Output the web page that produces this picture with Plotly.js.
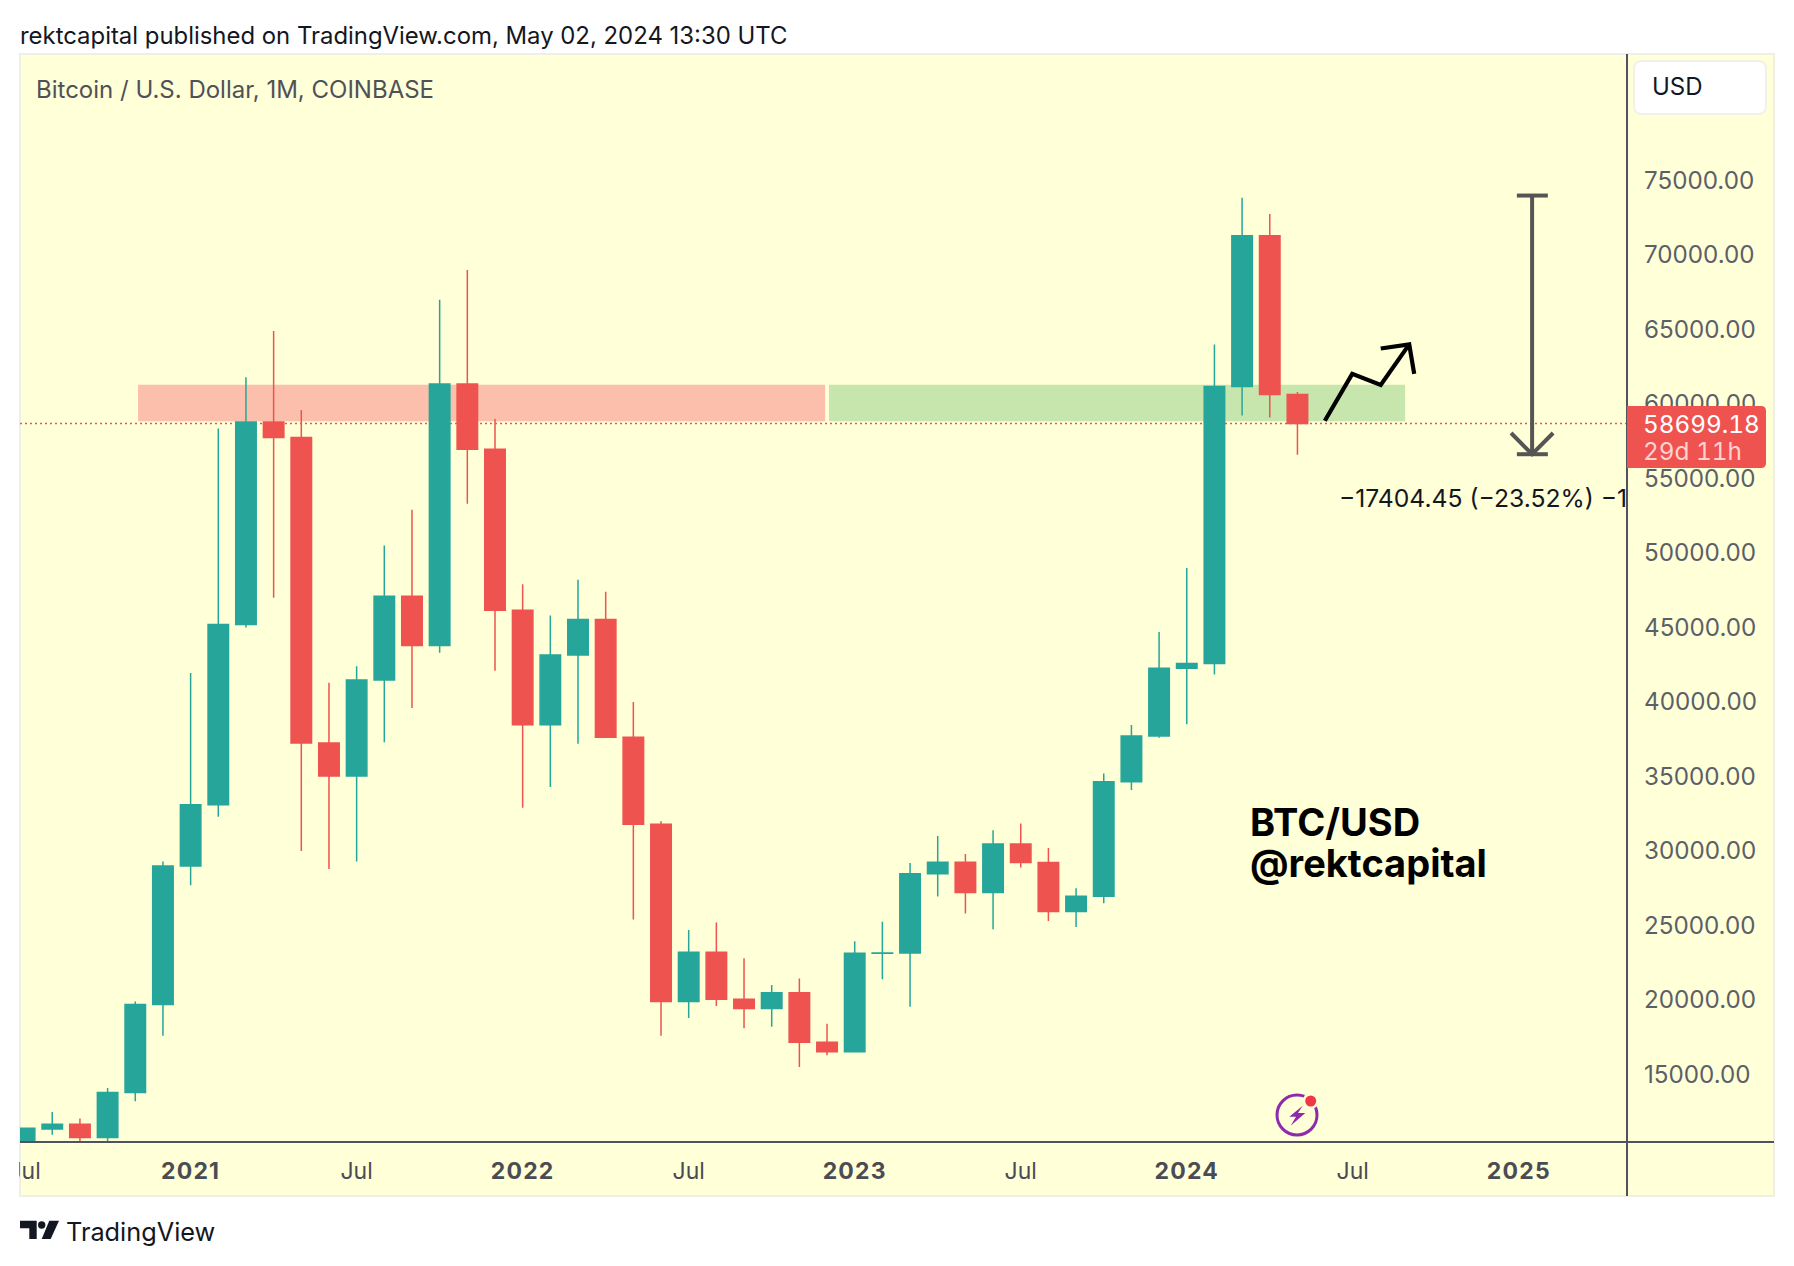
<!DOCTYPE html>
<html>
<head>
<meta charset="utf-8">
<script src="https://cdn.plot.ly/plotly-3.0.1.min.js"></script>
<style>
	html, body { margin: 0; padding: 0; background: #fff; }
</style>
</head>
<body>
<div id="chart"></div>
<script>
// monthly candles, Jul 2020 to May 2024
const months = ['2020-07', '2020-08', '2020-09', '2020-10', '2020-11', '2020-12',
	'2021-01', '2021-02', '2021-03', '2021-04', '2021-05', '2021-06', '2021-07', '2021-08', '2021-09', '2021-10', '2021-11', '2021-12',
	'2022-01', '2022-02', '2022-03', '2022-04', '2022-05', '2022-06', '2022-07', '2022-08', '2022-09', '2022-10', '2022-11', '2022-12',
	'2023-01', '2023-02', '2023-03', '2023-04', '2023-05', '2023-06', '2023-07', '2023-08', '2023-09', '2023-10', '2023-11', '2023-12',
	'2024-01', '2024-02', '2024-03', '2024-04', '2024-05']
const open = [9135, 11350, 11655, 10780, 13800, 19700,
	29000, 33100, 45200, 58800, 57750, 37250, 35030, 41470, 47100, 43800, 61340, 56970,
	46150, 38480, 43160, 45540, 37640, 31800, 19900, 23200, 20050, 19430, 20490, 17170,
	16530, 23130, 23150, 28470, 29250, 27210, 30470, 29230, 25940, 26960, 34650, 37720,
	42270, 42580, 61170, 71300, 60640]
const high = [11444, 12486, 12050, 14100, 19900, 29300,
	41950, 58350, 61800, 64900, 59600, 41300, 42400, 50500, 52900, 67000, 69000, 59000,
	47900, 45800, 48200, 47400, 40000, 32000, 24700, 25200, 22800, 21000, 21450, 18400,
	23950, 25250, 29200, 31000, 29800, 31400, 31850, 30200, 27500, 35200, 38450, 44700,
	49000, 64000, 73850, 72750, 60800]
const low = [9000, 10950, 9825, 10370, 13200, 17600,
	27700, 32300, 45000, 47000, 30000, 28800, 29300, 37300, 39600, 43300, 53300, 42100,
	32900, 34300, 37200, 37600, 25400, 17600, 18800, 19600, 18100, 18200, 15500, 16300,
	16500, 21400, 19550, 26950, 25800, 24750, 28900, 25300, 24900, 26500, 34100, 37600,
	38500, 41850, 59230, 59090, 56600]
const close = [11400, 11655, 10780, 13800, 19700, 29000,
	33100, 45200, 58800, 57750, 37250, 35030, 41470, 47100, 43800, 61340, 56970, 46150,
	38480, 43160, 45540, 37640, 31800, 19900, 23200, 20050, 19430, 20490, 17170, 16530,
	23130, 23150, 28470, 29250, 27210, 30470, 29230, 25940, 26960, 34650, 37720, 42270,
	42580, 61170, 71300, 60640, 58699.18]
const candleIndex = months.map((_, i) => i)

const yearStyle = 'letter-spacing:1.2px'
const timeTicks = [0, 6, 12, 18, 24, 30, 36, 42, 48, 54]
const timeLabels = ['Jul', '2021', 'Jul', '2022', 'Jul', '2023', 'Jul', '2024', 'Jul', '2025']
	.map(t => t == 'Jul' ? t : `<b><span style="${yearStyle}">${t}</span></b>`)
const priceTicks = [15000, 20000, 25000, 30000, 35000, 40000, 45000, 50000, 55000, 60000, 65000, 70000, 75000]

const lastPrice = 58699.18
const zoneLow = 58850
const zoneHigh = 61300
const redZone = [4.1, 28.93]
const greenZone = [29.07, 49.89]

// hand drawn up arrow
const arrowX = [46.99, 47.98, 49.01, 50.04, null, 49.01, 50.04, 50.22]
const arrowY = [58880, 62025, 61285, 64000, null, 63725, 64000, 62025]
// price range measure
const measureX = [54.48, 54.48, null, 53.93, 55.05, null, 53.93, 55.05, null, 53.72, 54.48, 55.24]
const measureY = [73990, 56630, null, 73990, 73990, null, 56630, 56630, null, 58055, 56630, 58055]

const ink = '#50535e'
const teal = '#26a69a'
const red = '#ef5350'
const paperYellow = '#ffffd8'
const font = 'Inter, "Liberation Sans", sans-serif'
const tabular = t => `<span style="font-variant-numeric:tabular-nums">${t}</span>`

// the plot rectangle in page pixels
const W = 1794, H = 1266, L = 20, R = 1627, T = 54, B = 1142
const px = x => (x - L) / (R - L)
const py = y => (B - y) / (B - T)
const pathOf = pts => 'M' + pts.map(([x, y]) => `${px(x)},${py(y)}`).join('L') + 'Z'

function paperRect(x0, y0, x1, y1, fill, line, layer = 'above') {
	return {
		type: 'rect', xref: 'paper', yref: 'paper', layer,
		x0: px(x0), x1: px(x1), y0: py(y0), y1: py(y1),
		fillcolor: fill,
		line: line ? { color: line, width: 2 } : { width: 0 },
	}
}

function paperCircle(cx, cy, r, fill, line, width = 0) {
	return {
		type: 'circle', xref: 'paper', yref: 'paper',
		x0: px(cx - r), x1: px(cx + r), y0: py(cy - r), y1: py(cy + r),
		fillcolor: fill,
		line: { color: line || fill, width },
	}
}

function paperPath(pts, fill) {
	return { type: 'path', xref: 'paper', yref: 'paper', path: pathOf(pts), fillcolor: fill, line: { width: 0 } }
}

function note(text, x, y, size, color, weight = 400) {
	return {
		text, xref: 'paper', yref: 'paper', x: px(x), y: py(y),
		xanchor: 'left', yanchor: 'middle', showarrow: false,
		font: { family: font, size, color, weight },
	}
}

const shapes = [
	paperRect(20, 54, 1774, 1196, paperYellow, '#efefe6', 'below'),
	{ type: 'rect', xref: 'x', yref: 'y', layer: 'below', x0: redZone[0], x1: redZone[1], y0: zoneLow, y1: zoneHigh, fillcolor: '#fbbfab', line: { width: 0 } },
	{ type: 'rect', xref: 'x', yref: 'y', layer: 'below', x0: greenZone[0], x1: greenZone[1], y0: zoneLow, y1: zoneHigh, fillcolor: '#c6e6ad', line: { width: 0 } },
	{ type: 'line', xref: 'paper', yref: 'y', layer: 'below', x0: 0, x1: 1, y0: lastPrice, y1: lastPrice, line: { color: red, width: 1.5, dash: '2px,3px' } },
	{ type: 'line', xref: 'paper', yref: 'paper', x0: px(20), x1: px(1774), y0: py(1142), y1: py(1142), line: { color: ink, width: 2 } },
	{ type: 'line', xref: 'paper', yref: 'paper', x0: px(R), x1: px(R), y0: py(54), y1: py(1196), line: { color: ink, width: 2 } },
	// the first Jul label is cut by the pane edge
	paperRect(0, 1146, 19, 1194, '#ffffff'),
	// USD button
	{
		type: 'path', xref: 'paper', yref: 'paper', fillcolor: '#ffffff', line: { color: '#f1f1ea', width: 2 },
		path: `M${px(1642)},${py(61)}L${px(1758)},${py(61)}Q${px(1766)},${py(61)} ${px(1766)},${py(69)}L${px(1766)},${py(106)}Q${px(1766)},${py(114)} ${px(1758)},${py(114)}L${px(1642)},${py(114)}Q${px(1634)},${py(114)} ${px(1634)},${py(106)}L${px(1634)},${py(69)}Q${px(1634)},${py(61)} ${px(1642)},${py(61)}Z`,
	},
	// last price tag
	{
		type: 'path', xref: 'paper', yref: 'paper', fillcolor: red, line: { width: 0 },
		path: `M${px(R)},${py(406)}L${px(1761)},${py(406)}Q${px(1766)},${py(406)} ${px(1766)},${py(411)}L${px(1766)},${py(463)}Q${px(1766)},${py(468)} ${px(1761)},${py(468)}L${px(R)},${py(468)}Z`,
	},
	// news badge
	paperCircle(1297, 1115, 20, 'rgba(0,0,0,0)', '#8e2bab', 3),
	paperCircle(1310.7, 1101, 8, paperYellow),
	paperCircle(1310.7, 1101, 5.5, '#f23645'),
	paperPath([[1302.7, 1105.7], [1289.3, 1116.7], [1296, 1116.7], [1290.7, 1125.7], [1305.3, 1113], [1298, 1113]], '#8e2bab'),
	// TradingView logo
	paperPath([[20, 1220.7], [36.7, 1220.7], [36.7, 1239], [29.3, 1239], [29.3, 1228.3], [20, 1228.3]], '#131722'),
	paperCircle(41.7, 1225, 3.7, '#131722'),
	paperPath([[49.3, 1220.7], [59, 1220.7], [50.7, 1239], [41.7, 1239]], '#131722'),
]

const annotations = [
	note('rektcapital published on TradingView.com, May 02, 2024 13:30 UTC', 18, 36, 23.9, '#131722'),
	note('Bitcoin / U.S. Dollar, 1M, COINBASE', 34, 89, 24, '#4f5159'),
	note('USD', 1650, 87, 24, '#131722'),
	note(tabular('58699.18'), 1641, 424, 24.3, '#ffffff'),
	note(tabular('29d 11h'), 1641, 451, 24.3, '#ffd2d0'),
	note('BTC/USD', 1248, 822, 38, '#000000', 700),
	note('@rektcapital', 1248, 863, 38, '#000000', 700),
	note('TradingView', 64, 1231, 25.3, '#131722'),
]

const traces = [
	{
		type: 'candlestick',
		x: candleIndex, open, high, low, close,
		whiskerwidth: 0,
		increasing: { line: { color: teal, width: 1.5 }, fillcolor: teal },
		decreasing: { line: { color: red, width: 1.5 }, fillcolor: red },
		hoverinfo: 'skip',
	},
	{
		type: 'scatter', mode: 'lines', x: measureX, y: measureY,
		line: { color: '#555555', width: 4 }, hoverinfo: 'skip',
	},
	{
		type: 'scatter', mode: 'lines', x: arrowX, y: arrowY,
		line: { color: '#000000', width: 4.2 }, hoverinfo: 'skip',
	},
	{
		type: 'scatter', mode: 'text', x: [47.5], y: [53520],
		text: ['\u221217404.45 (\u221223.52%) \u22121740445'],
		textposition: 'middle right',
		textfont: { family: font, size: 24.7, color: '#131722' },
		hoverinfo: 'skip',
	},
]

Plotly.newPlot('chart', traces, {
	width: W,
	height: H,
	showlegend: false,
	paper_bgcolor: '#ffffff',
	plot_bgcolor: 'rgba(0,0,0,0)',
	margin: { l: L, r: W - R, t: T, b: H - B, pad: 0 },
	boxgap: 0.26,
	boxgroupgap: 0,
	xaxis: {
		type: 'linear',
		range: [-0.166, 57.91],
		rangeslider: { visible: false },
		tickmode: 'array',
		tickvals: timeTicks,
		ticktext: timeLabels,
		showgrid: false,
		zeroline: false,
		ticks: '',
		ticklabelstandoff: 13,
		tickfont: { family: font, size: 23, color: '#4a4c55' },
	},
	yaxis: {
		side: 'right',
		range: [10470, 83490],
		tickmode: 'array',
		tickvals: priceTicks,
		tickformat: '.2f',
		showgrid: false,
		zeroline: false,
		ticks: '',
		ticklabelstandoff: 16,
		tickfont: { family: font, size: 24.2, color: '#5d5f68' },
	},
	shapes,
	annotations,
}, { staticPlot: true })
</script>
</body>
</html>
